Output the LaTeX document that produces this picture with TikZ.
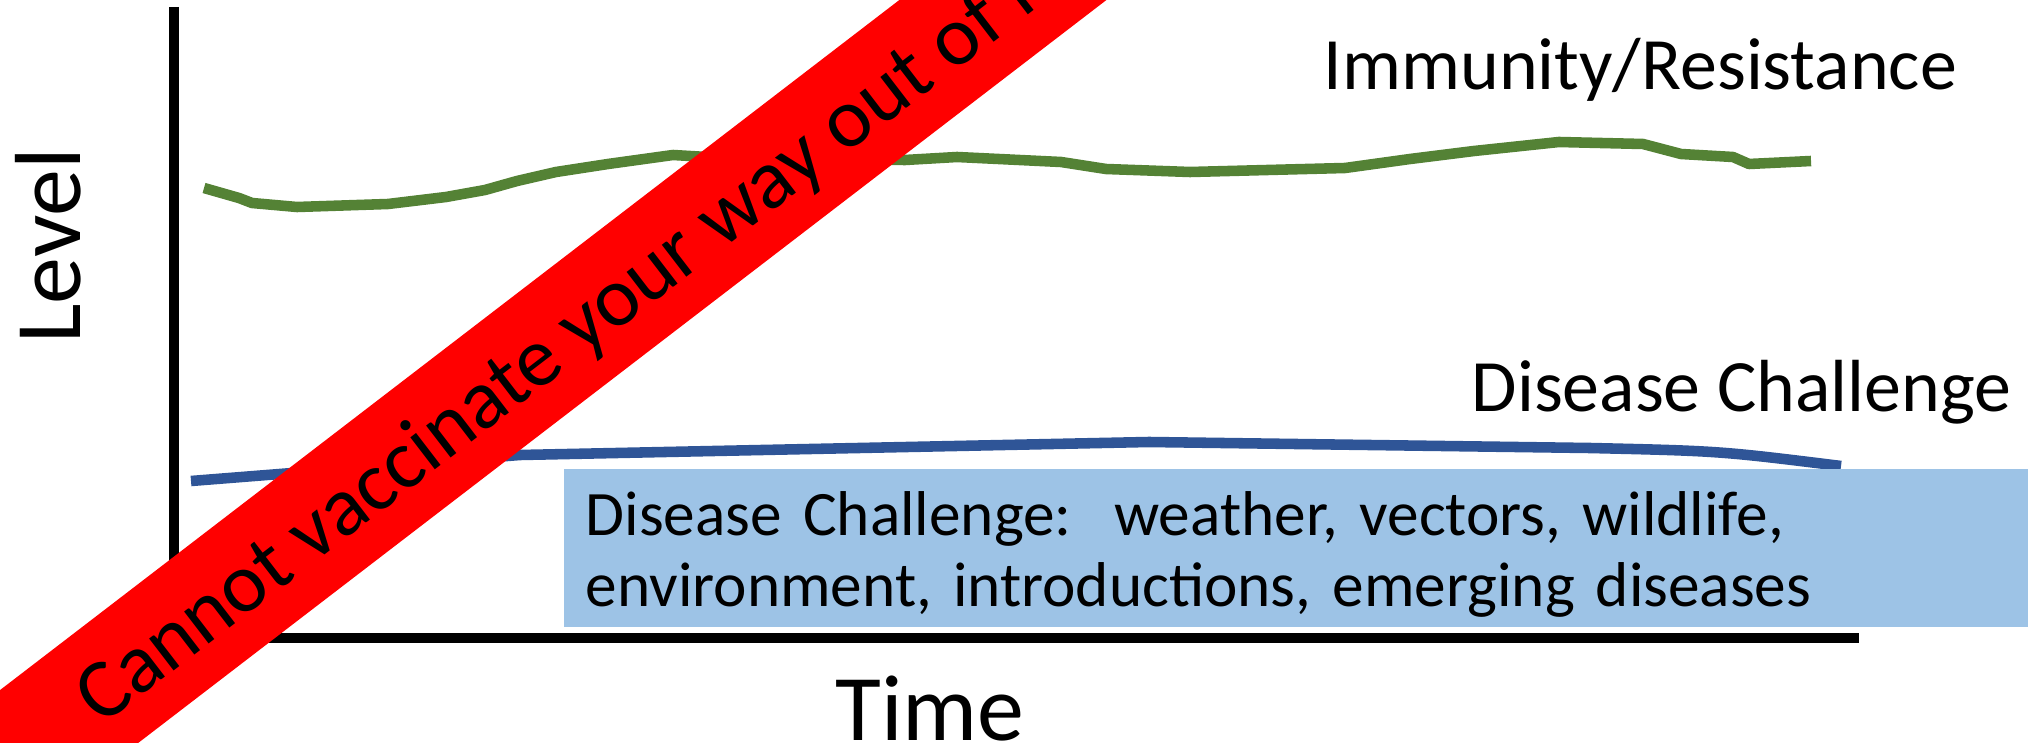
\documentclass[tikz,border=0pt]{standalone}
\usepackage{fontspec}
\setmainfont{Carlito}
\definecolor{immgreen}{HTML}{548235}
\definecolor{disblue}{HTML}{2F5597}
\definecolor{boxblue}{HTML}{9DC3E6}
\newcommand{\descfont}{\fontsize{18}{16.5}\selectfont\frenchspacing\setlength{\lineskiplimit}{-100pt}}
\tikzset{
  axis/.style={line width=3.1pt, black},
  immcurve/.style={line width=3pt, immgreen, line join=round},
  discurve/.style={line width=3pt, disblue, line join=round},
  axislabel/.style={font=\fontsize{26.7}{32}\selectfont, inner sep=0pt},
  curvelabel/.style={font=\fontsize{21}{25}\selectfont, inner sep=0pt, anchor=base west},
  descbox/.style={fill=boxblue, anchor=north west, minimum width=14.65cm, minimum height=1.58cm,
    text width=14.21cm, inner xsep=0.22cm, inner ysep=0pt, align=left, font=\descfont},
  banner/.style={fill=red, rotate=37.5, minimum width=30cm, minimum height=1.26cm, inner sep=0pt,
    text height=0.55cm, text depth=0pt, font=\fontsize{24}{28}\selectfont}
}
\begin{document}
\begin{tikzpicture}[x=0.01cm,y=-0.01cm]
\useasboundingbox (0,0) rectangle (2028,743);
\clip (0,0) rectangle (2028,743);
% axes
\coordinate (ytop) at (174,7);
\coordinate (origin) at (174,638);
\coordinate (xend) at (1859,638);
\draw[axis] (ytop) -- (origin) -- (xend);
% immunity curve
\draw[immcurve] (204,188) -- (239,198) -- (252,203) -- (297,207) -- (388,204) -- (446,197)
  -- (485,190) -- (517,181) -- (556,172) -- (608,164) -- (673,155) -- (724,158) -- (905,160)
  -- (957,157) -- (1061,162) -- (1106,169) -- (1190,172) -- (1345,168) -- (1410,159)
  -- (1474,151) -- (1559,142) -- (1643,144) -- (1681,154) -- (1733,157) -- (1749,164) -- (1811,161);
% disease curve
\draw[discurve] (191,481) -- (520,455) -- (1149,442) -- (1590,448) .. controls (1720,451) .. (1841,466);
% labels
\node[axislabel, rotate=90, anchor=base] (level) at (80,246) {Level};
\node[axislabel, anchor=base] (time) at (930,740) {Time};
\node[curvelabel] (immlabel) at (1323,90) {Immunity/Resistance};
\node[curvelabel] (dislabel) at (1471,411) {Disease Challenge};
\node[descbox] (desc) at (563,468) {\raisebox{3.7pt}{\vphantom{Disease Challenge:}}Disease Challenge:\ \ weather, vectors, wildlife,\\[3.7pt]
  environment, introductions, emerging diseases};
% banner
\node[banner] (ban) at (565,336) {Cannot vaccinate your way out of it};
\end{tikzpicture}
\end{document}
